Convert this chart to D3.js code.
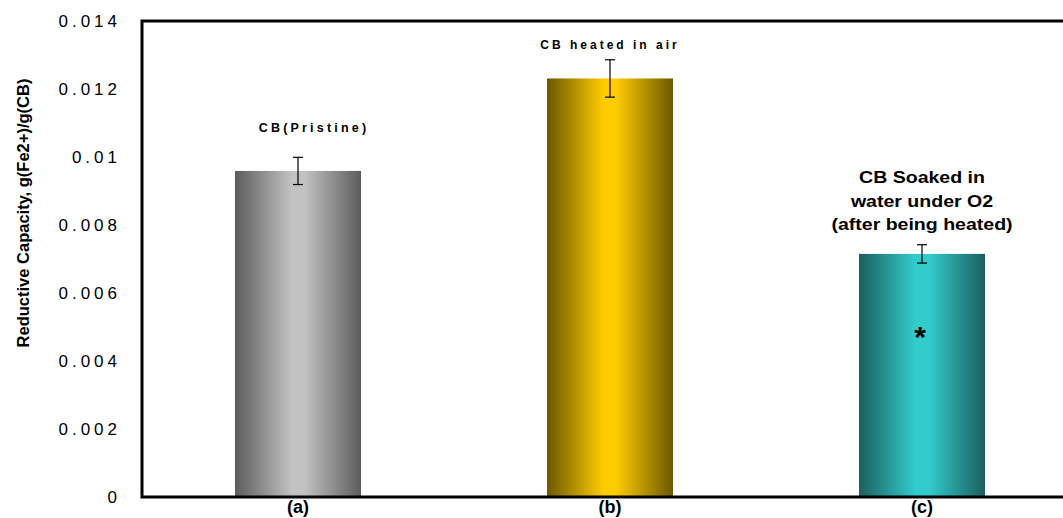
<!DOCTYPE html>
<html>
<head>
<meta charset="utf-8">
<script src="https://cdn.jsdelivr.net/npm/d3@7/dist/d3.min.js"></script>
<style>
  html, body { margin: 0; padding: 0; background: #fff; }
  svg { display: block; font-family: "Liberation Sans", Arial, sans-serif; }
</style>
</head>
<body>
<svg id="chart" width="1063" height="518"></svg>
<script>
// Reductive capacity of carbon black samples
const categories = ["(a)", "(b)", "(c)"];
const values = [0.00959, 0.01231, 0.00715];
const errors = [0.0004, 0.00055, 0.00027];
const yTicks = [0, 0.002, 0.004, 0.006, 0.008, 0.01, 0.012, 0.014];
const yTickLabels = ["0", "0.002", "0.004", "0.006", "0.008", "0.01", "0.012", "0.014"];
const barColors = [
  { edge: "#5c5c5c", mid: "#c2c2c2" },
  { edge: "#6b5800", mid: "#ffcc00" },
  { edge: "#1c5f5f", mid: "#33cccc" }
];

const svg = d3.select("#chart");
const plotLeft = 142, plotTop = 21, plotBottom = 497;

const x = d3.scaleBand()
  .domain(categories)
  .range([plotLeft, plotLeft + 936])
  .paddingInner(0.596)
  .paddingOuter(0.298);

const y = d3.scaleLinear().domain([0, 0.014]).range([plotBottom, plotTop]);

// horizontal "from centre" gradients for each bar
const defs = svg.append("defs");
barColors.forEach((c, i) => {
  const g = defs.append("linearGradient")
    .attr("id", "grad" + i)
    .attr("x1", "0%").attr("x2", "100%").attr("y1", "0%").attr("y2", "0%");
  g.append("stop").attr("offset", "0%").attr("stop-color", c.edge);
  g.append("stop").attr("offset", "45%").attr("stop-color", c.mid);
  g.append("stop").attr("offset", "55%").attr("stop-color", c.mid);
  g.append("stop").attr("offset", "100%").attr("stop-color", c.edge);
});

// bars
svg.append("g").selectAll("rect")
  .data(values)
  .join("rect")
  .attr("x", (d, i) => x(categories[i]))
  .attr("y", d => y(d))
  .attr("width", x.bandwidth())
  .attr("height", d => y(0) - y(d))
  .attr("fill", (d, i) => `url(#grad${i})`);

// error bars
const eb = svg.append("g").attr("stroke", "#000").attr("stroke-width", 1.2);
values.forEach((v, i) => {
  const cx = x(categories[i]) + x.bandwidth() / 2;
  const y1 = y(v + errors[i]), y2 = y(v - errors[i]);
  eb.append("line").attr("x1", cx).attr("x2", cx).attr("y1", y1).attr("y2", y2);
  eb.append("line").attr("x1", cx - 5).attr("x2", cx + 5).attr("y1", y1).attr("y2", y1);
  eb.append("line").attr("x1", cx - 5).attr("x2", cx + 5).attr("y1", y2).attr("y2", y2);
});

// y axis tick labels
const yAxis = d3.axisLeft(y)
  .tickValues(yTicks)
  .tickFormat((d, i) => yTickLabels[i])
  .tickSize(0)
  .tickPadding(0);
const yg = svg.append("g").attr("transform", `translate(${plotLeft - 21},0)`).call(yAxis);
yg.select(".domain").remove();
yg.selectAll("text")
  .attr("font-size", 17)
  .attr("letter-spacing", "4px")
  .attr("fill", "#000")
  .style("font-family", "'Liberation Sans', Arial, sans-serif");

// x axis category labels
const xAxis = d3.axisBottom(x).tickSize(0).tickPadding(3);
const xg = svg.append("g").attr("transform", `translate(0,${plotBottom})`).call(xAxis);
xg.select(".domain").remove();
xg.selectAll("text")
  .attr("font-size", 18)
  .attr("font-weight", "bold")
  .attr("fill", "#000")
  .style("font-family", "'Liberation Sans', Arial, sans-serif");

// plot frame: left, top, bottom
svg.append("path")
  .attr("d", `M1063,${plotTop}H${plotLeft}V${plotBottom}H1063`)
  .attr("fill", "none")
  .attr("stroke", "#000")
  .attr("stroke-width", 3);

// y axis title
svg.append("text")
  .attr("transform", `translate(23,213) rotate(-90)`)
  .attr("text-anchor", "middle")
  .attr("dominant-baseline", "central")
  .attr("font-size", 16.5)
  .attr("font-weight", "bold")
  .text("Reductive Capacity, g(Fe2+)/g(CB)");

// bar annotations
const cxOf = i => x(categories[i]) + x.bandwidth() / 2;
svg.append("text")
  .attr("x", cxOf(0) + 16).attr("y", 128)
  .attr("text-anchor", "middle").attr("dominant-baseline", "central")
  .attr("font-size", 12.5).attr("font-weight", "bold").attr("letter-spacing", "3.2px")
  .text("CB(Pristine)");
svg.append("text")
  .attr("x", cxOf(1) + 0).attr("y", 45)
  .attr("text-anchor", "middle").attr("dominant-baseline", "central")
  .attr("font-size", 12).attr("font-weight", "bold").attr("letter-spacing", "3px")
  .text("CB heated in air");

const noteC = ["CB Soaked in", "water under O2", "(after being heated)"];
svg.append("g")
  .attr("transform", `translate(${cxOf(2)},0) scale(1.15,1)`)
  .selectAll("text")
  .data(noteC)
  .join("text")
  .attr("x", 0)
  .attr("y", (d, i) => 177 + i * 23.5)
  .attr("text-anchor", "middle").attr("dominant-baseline", "central")
  .attr("font-size", 17).attr("font-weight", "bold")
  .text(d => d);

svg.append("text")
  .attr("x", cxOf(2) - 2).attr("y", 336)
  .attr("text-anchor", "middle").attr("dominant-baseline", "central")
  .attr("font-size", 30).attr("font-weight", "bold")
  .text("*");
</script>
</body>
</html>
